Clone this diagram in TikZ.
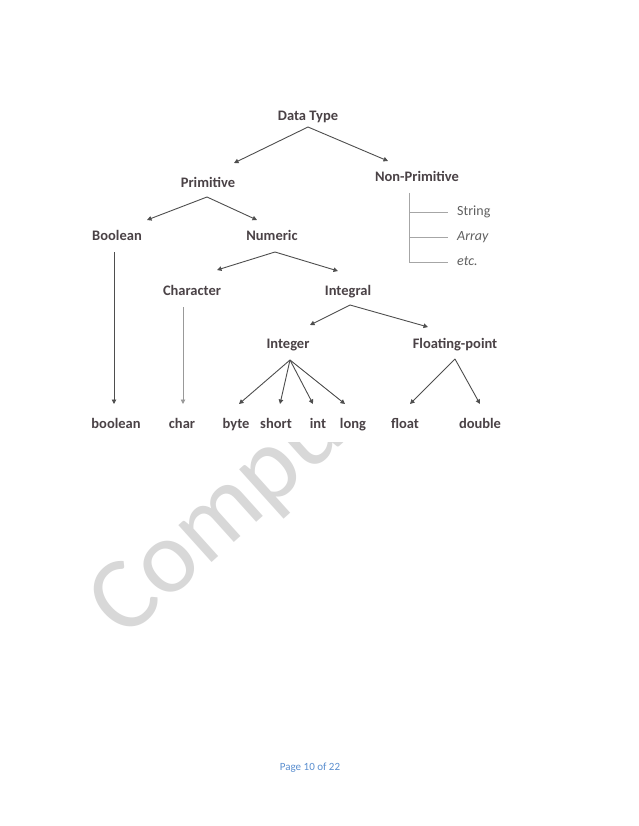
\documentclass[tikz,border=0pt]{standalone}
\usepackage{fontspec}
\setmainfont{Carlito}
\newfontfamily\carlito{Carlito}
\usetikzlibrary{arrows.meta}
\definecolor{txt}{HTML}{4A4246}
\definecolor{ln}{HTML}{4E4E4E}
\definecolor{wm}{HTML}{D8D8D8}
\definecolor{foot}{HTML}{5B8FD0}
\tikzset{
  lbl/.style={font=\fontsize{14.5}{16}\selectfont\bfseries, text=txt, inner sep=1pt,
              text height=10pt, text depth=3pt},
  sub/.style={font=\fontsize{14}{16}\selectfont, text=gray!75!black, inner sep=1pt,
              text height=10pt, text depth=3pt, anchor=west},
  arr/.style={draw=ln, line width=0.9pt, -{Triangle[length=4.5pt,width=4.5pt]}},
  brk/.style={draw=gray!70, line width=0.8pt},
}
\begin{document}
\begin{tikzpicture}[x=1pt,y=-1pt]
\useasboundingbox (0,0) rectangle (638,826);
\fill[white] (0,0) rectangle (638,826);
% watermark
\node[rotate=42, anchor=base west, inner sep=0pt, text=wm,
      font=\fontsize{104}{104}\selectfont\carlito] (wmk) at (124,641) {Computer};
% pasted picture background
\fill[white] (76,76) rectangle (512,442);
% nodes
\node[lbl] (dt) at (308,117) {Data Type};
\node[lbl] (prim) at (208,184) {Primitive};
\node[lbl] (nonp) at (417,178) {Non-Primitive};
\node[lbl] (bool) at (117,237) {Boolean};
\node[lbl] (num) at (272,237) {Numeric};
\node[sub] (str) at (456,212) {String};
\node[sub, font=\fontsize{14}{16}\selectfont\itshape] (arry) at (456,237) {Array};
\node[sub, font=\fontsize{14}{16}\selectfont\itshape] (etc) at (456,262) {etc.};
\node[lbl] (charc) at (192,292) {Character};
\node[lbl] (integral) at (348,292) {Integral};
\node[lbl] (integer) at (288,345) {Integer};
\node[lbl] (fp) at (455,345) {Floating-point};
\node[lbl] (lbool) at (116,425) {boolean};
\node[lbl] (lchar) at (182,425) {char};
\node[lbl] (lbyte) at (236,425) {byte};
\node[lbl] (lshort) at (276,425) {short};
\node[lbl] (lint) at (318,425) {int};
\node[lbl] (llong) at (353,425) {long};
\node[lbl] (lfloat) at (405,425) {float};
\node[lbl] (ldouble) at (480,425) {double};
% connector points
\coordinate (dtO) at (308,127);
\coordinate (primI) at (234,163);
\coordinate (nonpI) at (388,161);
\coordinate (primO) at (207,197);
\coordinate (boolI) at (147,220);
\coordinate (numI) at (257,220);
\coordinate (numO) at (275,252);
\coordinate (charI) at (217,270);
\coordinate (intlI) at (338,271);
\coordinate (boolO) at (114,252);
\coordinate (lboolI) at (114,404);
\coordinate (charO) at (183,307);
\coordinate (lcharI) at (183,404);
\coordinate (intlO) at (350,305);
\coordinate (integerI) at (310,325);
\coordinate (fpI) at (428,327);
\coordinate (integerO) at (290,360);
\coordinate (byteI) at (239,404);
\coordinate (shortI) at (280,404);
\coordinate (intI) at (313,404);
\coordinate (longI) at (345,404);
\coordinate (fpO) at (455,359);
\coordinate (floatI) at (410,404);
\coordinate (doubleI) at (480,404);
\coordinate (bTop) at (409,193);
\coordinate (bS) at (409,212);
\coordinate (bA) at (409,237);
\coordinate (bE) at (409,262);
% connectors
\draw[arr] (dtO) -- (primI);
\draw[arr] (dtO) -- (nonpI);
\draw[arr] (primO) -- (boolI);
\draw[arr] (primO) -- (numI);
\draw[arr] (numO) -- (charI);
\draw[arr] (numO) -- (intlI);
\draw[arr] (boolO) -- (lboolI);
\draw[arr, draw=gray!80] (charO) -- (lcharI);
\draw[arr] (intlO) -- (integerI);
\draw[arr] (intlO) -- (fpI);
\draw[arr] (integerO) -- (byteI);
\draw[arr] (integerO) -- (shortI);
\draw[arr] (integerO) -- (intI);
\draw[arr] (integerO) -- (longI);
\draw[arr] (fpO) -- (floatI);
\draw[arr] (fpO) -- (doubleI);
\draw[brk] (bTop) -- (bE);
\draw[brk, shorten >=8pt] (bS) -- (str.west);
\draw[brk, shorten >=8pt] (bA) -- (arry.west);
\draw[brk, shorten >=8pt] (bE) -- (etc.west);
% footer
\node[text=foot, font=\fontsize{11}{13}\selectfont\carlito] (pg) at (310,768) {Page 10 of 22};
\end{tikzpicture}
\end{document}
